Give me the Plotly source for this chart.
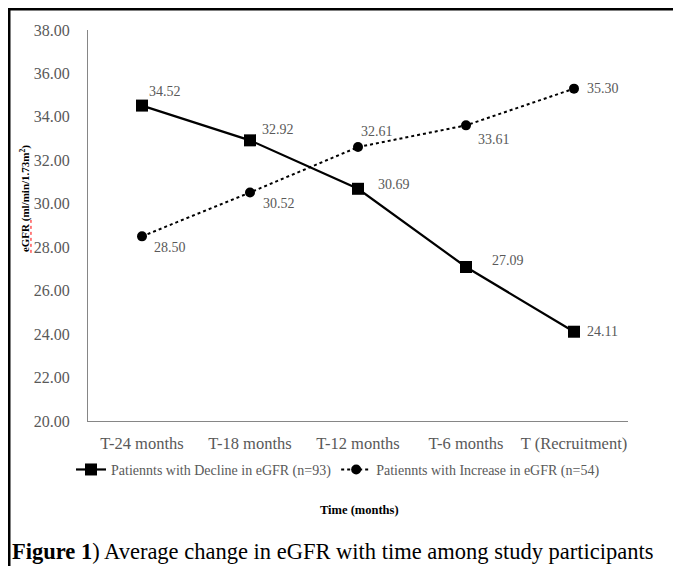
import plotly.graph_objects as go

categories = ["T-24 months", "T-18 months", "T-12 months", "T-6 months", "T (Recruitment)"]
decline = [34.52, 32.92, 30.69, 27.09, 24.11]
increase = [28.50, 30.52, 32.61, 33.61, 35.30]
decline_name = "Patiennts with Decline in eGFR (n=93)"
increase_name = "Patiennts with Increase in eGFR (n=54)"

# label offsets (pixels) for each data label
decline_off = [(23, 14), (28, 11), (36, 4), (42, 6), (28, 0)]
increase_off = [(28, -11), (29, -11), (19, 16), (28, -14), (29, 0)]

FONT = "Liberation Serif"
GRAY = "#595959"

fig = go.Figure()
fig.add_trace(go.Scatter(
    x=categories, y=decline, name=decline_name, mode="lines+markers",
    line=dict(color="black", width=2.2, dash="solid"),
    marker=dict(symbol="square", size=12, color="black"),
))
fig.add_trace(go.Scatter(
    x=categories, y=increase, name=increase_name, mode="lines+markers",
    line=dict(color="black", width=2, dash="dot"),
    marker=dict(symbol="circle", size=10, color="black"),
))

annotations = []
for vals, offs in ((decline, decline_off), (increase, increase_off)):
    for c, v, (dx, dy) in zip(categories, vals, offs):
        annotations.append(dict(
            x=c, y=v, xref="x", yref="y", text=f"{v:.2f}", showarrow=False,
            xshift=dx, yshift=dy, font=dict(family=FONT, size=14, color=GRAY),
        ))

annotations.append(dict(
    x=-0.1167, y=0.57, xref="paper", yref="paper", textangle=-90,
    xanchor="center", yanchor="middle",
    text="<b>eGFR (ml/min/1.73m<sup>2</sup>)</b>", showarrow=False,
    font=dict(family=FONT, size=11, color="black"),
))
annotations.append(dict(
    x=0.502, y=-0.228, xref="paper", yref="paper", xanchor="center", yanchor="middle",
    text="<b>Time (months)</b>", showarrow=False,
    font=dict(family=FONT, size=12.5, color="black"),
))
annotations.append(dict(
    x=-0.1444, y=-0.335, xref="paper", yref="paper", xanchor="left", yanchor="middle",
    text="<b>Figure 1</b>) Average change in eGFR with time among study participants",
    showarrow=False, font=dict(family=FONT, size=22.5, color="black"),
))

shapes = [
    dict(type="line", xref="paper", yref="paper", x0=-0.16, x1=1.2,
         y0=1.0537, y1=1.0537, line=dict(color="black", width=3)),
    dict(type="line", xref="paper", yref="paper", x0=-0.1463, x1=-0.1463,
         y0=1.06, y1=-0.5, line=dict(color="black", width=3)),
    dict(type="line", xref="paper", yref="paper", x0=-0.1056, x1=-0.1056,
         y0=0.43, y1=0.515, line=dict(color="red", width=1, dash="dot")),
]

fig.update_layout(
    width=673, height=558,
    margin=dict(l=80, r=53, t=22, b=145),
    paper_bgcolor="white", plot_bgcolor="white",
    font=dict(family=FONT, color=GRAY),
    showlegend=True,
    legend=dict(orientation="h", x=0.463, xanchor="center", y=-0.125, yanchor="middle",
                font=dict(family=FONT, size=14, color=GRAY), itemwidth=30,
                bgcolor="rgba(0,0,0,0)"),
    xaxis=dict(type="category", range=[-0.5, 4.5], showgrid=False, zeroline=False,
               showline=True, linecolor="#868686", linewidth=1.3, ticks="",
               ticklabelstandoff=7, automargin=False,
               tickfont=dict(family=FONT, size=16.5, color=GRAY)),
    yaxis=dict(range=[20, 38], dtick=2, tickformat=".2f", showgrid=False, zeroline=False,
               showline=True, linecolor="#868686", linewidth=1.3, ticks="",
               ticklabelstandoff=14, automargin=False,
               tickfont=dict(family=FONT, size=16, color=GRAY)),
    annotations=annotations, shapes=shapes,
)

fig.write_html("out.html")
